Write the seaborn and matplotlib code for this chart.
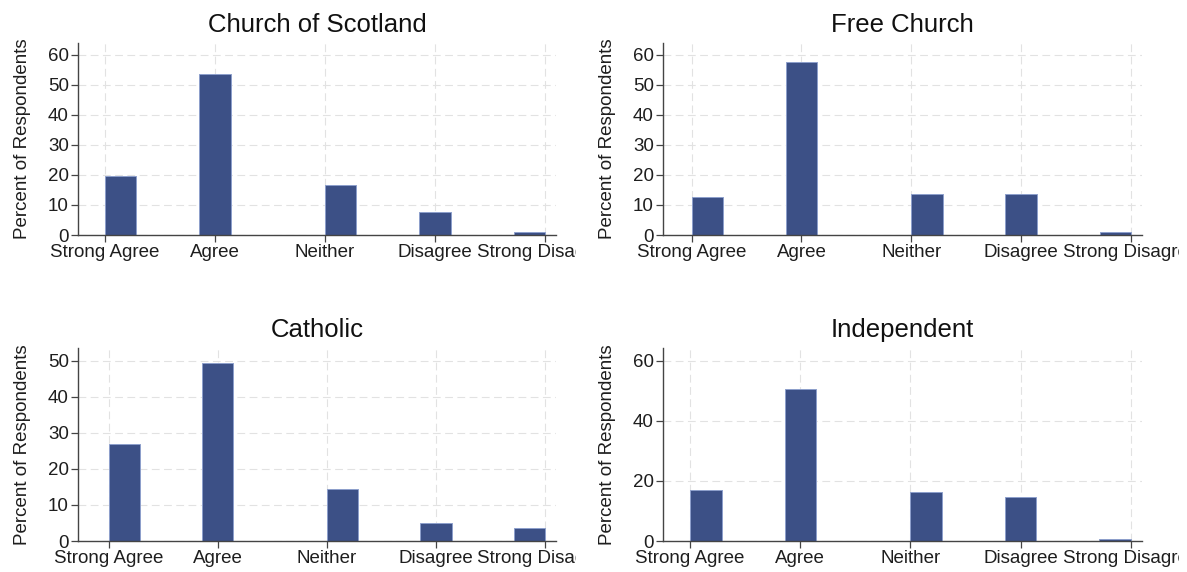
import matplotlib
matplotlib.use("Agg")
import matplotlib.pyplot as plt
import seaborn as sns
from matplotlib.transforms import Bbox, TransformedBbox

# response scale (coded 1..5)
codes = [1, 2, 3, 4, 5]
labels = ["Strong Agree", "Agree", "Neither", "Disagree", "Strong Disagree"]

# percent of respondents per church
church_of_scotland = [19.8, 53.5, 16.5, 7.6, 1.1]
free_church = [12.6, 57.5, 13.5, 13.5, 1.1]
catholic = [26.9, 49.4, 14.3, 4.9, 3.7]
independent = [16.9, 50.4, 16.4, 14.8, 0.6]

titles = ["Church of Scotland", "Free Church", "Catholic", "Independent"]
yticks = [list(range(0, 61, 10)), list(range(0, 61, 10)), list(range(0, 51, 10)), [0, 20, 40, 60]]
ytops = [63.9, 63.9, 53.5, 64.2]

sns.set_style("white")
plt.rcParams["font.family"] = ["Liberation Sans", "DejaVu Sans"]

W, H = 1187, 572
fig = plt.figure(figsize=(W / 100, H / 100), dpi=100)

# axes boxes in pixels: left, right, top, bottom
boxes = [(78, 556, 43, 235), (663, 1142, 43, 235), (78, 556, 348, 541), (663, 1142, 348, 541)]
xlims = [(0.755, 5.10), (0.74, 5.10), (0.72, 5.10), (0.755, 5.10)]
clip_right = [576, 1179, 576, 1179]
bar_color = "#3c5086"
text_color = "#1e1e1e"

for i, vals in enumerate([church_of_scotland, free_church, catholic, independent]):
    l, r, t, b = boxes[i]
    ax = fig.add_axes([l / W, 1 - b / H, (r - l) / W, (b - t) / H])
    sns.histplot(x=codes, weights=vals, bins=14, binrange=(1, 5), stat="count",
                 color=bar_color, alpha=1, edgecolor="#8d9fcc", linewidth=0.7, ax=ax)
    ax.set_xlim(*xlims[i])
    ax.set_ylim(0, ytops[i])
    ax.set_xticks(codes)
    ax.set_xticklabels(labels, fontsize=13.5, color=text_color)
    ax.set_yticks(yticks[i])
    ax.set_yticklabels([str(v) for v in yticks[i]], fontsize=13.5, color=text_color)
    ax.set_xlabel("")
    ax.set_ylabel("Percent of Respondents", fontsize=13.5, color=text_color, labelpad=12)
    ax.set_title(titles[i], fontsize=18.5, color="#111111", pad=8)
    ax.grid(True, color="#e2e2e2", linestyle=(0, (7, 4)), linewidth=0.8)
    ax.set_axisbelow(True)
    for side in ["top", "right"]:
        ax.spines[side].set_visible(False)
    for side in ["left", "bottom"]:
        ax.spines[side].set_color("#444444")
        ax.spines[side].set_linewidth(1.0)
    ax.tick_params(axis="both", direction="out", length=5, width=0.9, color="#444444",
                   bottom=True, left=True, pad=1.5)
    clip = TransformedBbox(Bbox([[0, 0], [clip_right[i] / W, 1]]), fig.transFigure)
    for lab in ax.get_xticklabels():
        lab.set_clip_box(clip)
        lab.set_clip_on(True)

fig.savefig("out.png", dpi=100, facecolor="white")
